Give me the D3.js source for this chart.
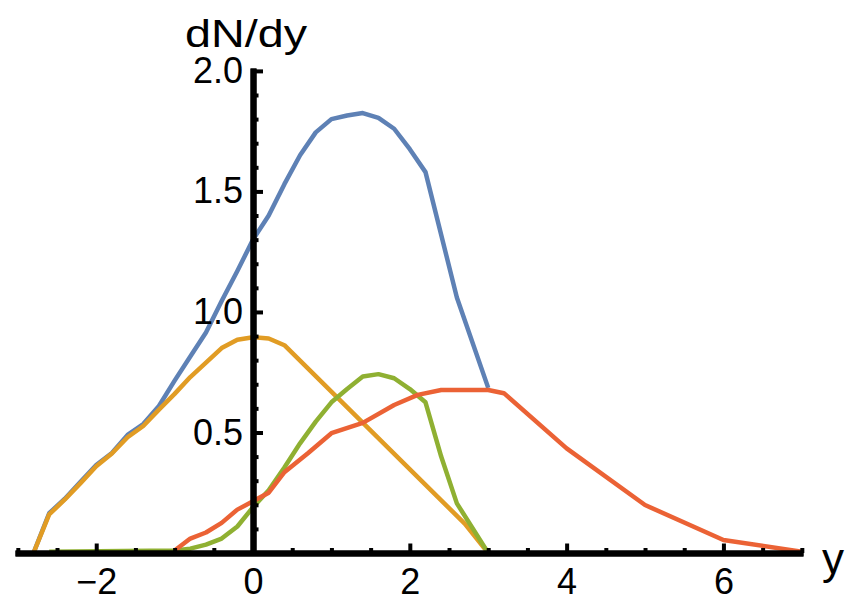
<!DOCTYPE html>
<html>
<head>
<meta charset="utf-8">
<script src="https://cdn.jsdelivr.net/npm/d3@7"></script>
<style>
  html, body { margin: 0; padding: 0; background: #fff; }
  svg { display: block; }
</style>
</head>
<body>
<svg id="chart" width="846" height="600"></svg>
<script>
// dN/dy 분포 — 값은 그림에서 읽은 값
const blueX = [-2.8, -2.6, -2.4, -2.2, -2.0, -1.8, -1.6, -1.4, -1.2, -1.0, -0.8, -0.6, -0.4, -0.2, 0.0,
  0.2, 0.4, 0.6, 0.8, 1.0, 1.2, 1.4, 1.6, 1.8, 2.0, 2.2, 2.6, 3.0];
const blueY = [0, 0.165, 0.225, 0.295, 0.365, 0.415, 0.49, 0.535, 0.61, 0.715, 0.815, 0.915, 1.045, 1.17, 1.30,
  1.40, 1.53, 1.65, 1.745, 1.80, 1.815, 1.825, 1.805, 1.76, 1.675, 1.58, 1.06, 0.685];

const orangeX = [-2.8, -2.6, -2.4, -2.2, -2.0, -1.8, -1.6, -1.4, -1.2, -1.0, -0.8, -0.6, -0.4, -0.2, 0.0, 0.2, 0.4, 2.7, 3.0];
const orangeY = [0, 0.16, 0.222, 0.29, 0.36, 0.413, 0.48, 0.527, 0.595, 0.66, 0.73, 0.79, 0.85, 0.885, 0.895, 0.89, 0.862, 0.122, 0];

const greenX = [-2.6, -1.0, -0.8, -0.6, -0.4, -0.2, 0.0, 0.2, 0.4, 0.6, 0.8, 1.0, 1.2, 1.4, 1.6, 1.8, 2.0, 2.2, 2.4, 2.6, 3.0];
const greenY = [0.005, 0.01, 0.018, 0.035, 0.06, 0.11, 0.19, 0.26, 0.355, 0.455, 0.545, 0.625, 0.68, 0.732, 0.742, 0.725, 0.68, 0.625, 0.40, 0.206, 0];

const redX = [-1.0, -0.8, -0.6, -0.4, -0.2, 0.0, 0.2, 0.4, 0.7, 1.0, 1.4, 1.8, 2.1, 2.4, 3.0, 3.2, 4.0, 5.0, 6.0, 7.0];
const redY = [0.01, 0.06, 0.085, 0.125, 0.18, 0.215, 0.25, 0.335, 0.414, 0.497, 0.54, 0.614, 0.656, 0.676, 0.676, 0.663, 0.434, 0.199, 0.054, 0.005];

const seriesColors = ["#5E81B5", "#E19C24", "#8FB032", "#EB6235"];

const xMajor = [-2, 0, 2, 4, 6];
const xMinor = [-3, -2.5, -1.5, -1, -0.5, 0.5, 1, 1.5, 2.5, 3, 3.5, 4.5, 5, 5.5, 6.5, 7];
const yMajor = [0.5, 1.0, 1.5, 2.0];
const yMinor = [0.1, 0.2, 0.3, 0.4, 0.6, 0.7, 0.8, 0.9, 1.1, 1.2, 1.3, 1.4, 1.6, 1.7, 1.8, 1.9];

const svg = d3.select("#chart");

// 스케일 (x축 끝 15px ~ 803px, y축 553px ~ 68px)
const x = d3.scaleLinear().domain([-3.036, 7.015]).range([15, 803]);
const y = d3.scaleLinear().domain([0, 2.012]).range([553, 68]);

const series = [
  { xs: blueX, ys: blueY },
  { xs: orangeX, ys: orangeY },
  { xs: greenX, ys: greenY },
  { xs: redX, ys: redY },
];

const line = d3.line()
  .x(d => x(d[0]))
  .y(d => y(d[1]));

// 곡선 그리기
svg.append("g")
  .selectAll("path")
  .data(series)
  .join("path")
  .attr("d", s => line(s.xs.map((v, i) => [v, s.ys[i]])))
  .attr("fill", "none")
  .attr("stroke", (s, i) => seriesColors[i])
  .attr("stroke-width", 4.5)
  .attr("stroke-linejoin", "round");

const font = "'Liberation Sans', Arial, sans-serif";
const x0 = y(0);
const y0 = x(0);

// 축 (minor / major 따로 그룹)
const xMinorG = svg.append("g").attr("transform", `translate(0,${x0})`)
  .call(d3.axisBottom(x).tickValues(xMinor).tickSize(-5).tickSizeOuter(0).tickFormat(""));
const xMajorG = svg.append("g").attr("transform", `translate(0,${x0})`)
  .call(d3.axisBottom(x).tickValues(xMajor).tickSize(-9.5).tickSizeOuter(0).tickPadding(15)
    .tickFormat(d => d < 0 ? "\u2212" + Math.abs(d) : String(d)));

const yMinorG = svg.append("g").attr("transform", `translate(${y0},0)`)
  .call(d3.axisLeft(y).tickValues(yMinor).tickSize(-5.5).tickSizeOuter(0).tickFormat(""));
const yMajorG = svg.append("g").attr("transform", `translate(${y0},0)`)
  .call(d3.axisLeft(y).tickValues(yMajor).tickSize(-10).tickSizeOuter(0).tickPadding(10)
    .tickFormat(d3.format(".1f")));

svg.selectAll(".domain").attr("stroke", "#000").attr("stroke-width", 6);
svg.selectAll(".tick line").attr("stroke", "#000").attr("stroke-width", 4);
svg.selectAll(".tick text")
  .attr("fill", "#000")
  .style("font-family", font)
  .style("font-size", "36px");

// 축 제목
svg.append("text")
  .attr("x", 185)
  .attr("y", 47)
  .attr("textLength", 122)
  .attr("lengthAdjust", "spacingAndGlyphs")
  .style("font-family", font)
  .style("font-size", "38px")
  .attr("fill", "#000")
  .text("dN/dy");

svg.append("text")
  .attr("x", 822)
  .attr("y", 574)
  .attr("textLength", 22)
  .attr("lengthAdjust", "spacingAndGlyphs")
  .style("font-family", font)
  .style("font-size", "44px")
  .attr("fill", "#000")
  .text("y");
</script>
</body>
</html>
